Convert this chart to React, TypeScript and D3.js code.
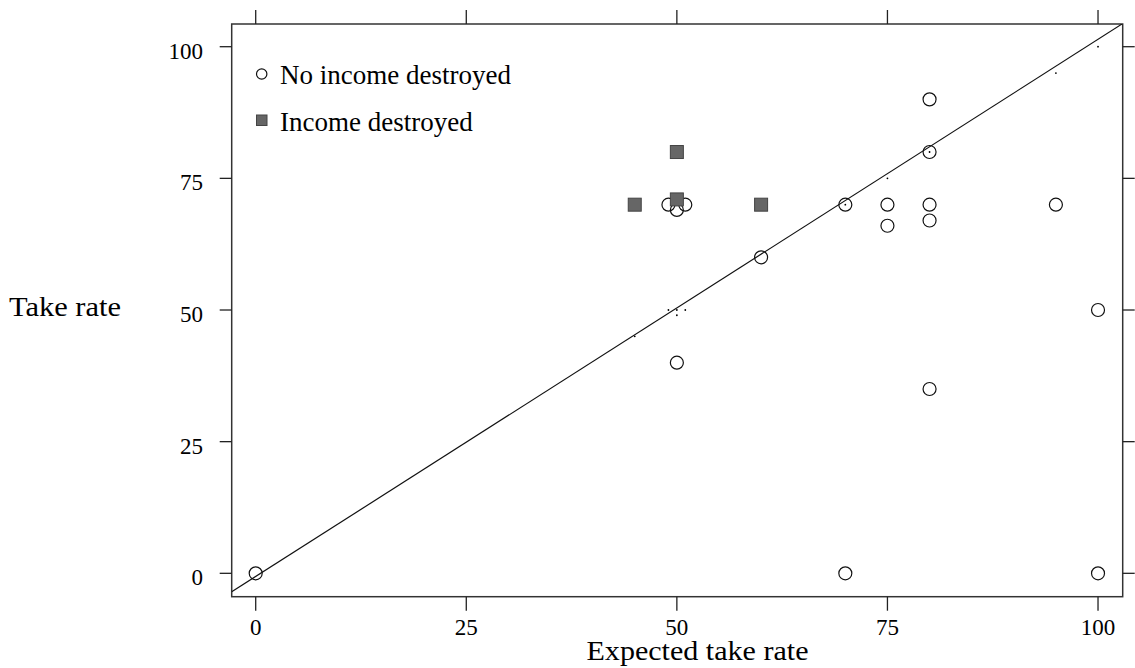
import React from 'react';
import * as d3 from 'd3';

// expected take rate / actual take rate
const noIncomeX = [0, 70, 100, 100, 80, 50, 60, 70, 75, 75, 80, 80, 80, 80, 95, 49, 51, 50];
const noIncomeY = [0, 0, 0, 50, 35, 40, 60, 70, 70, 66, 70, 67, 80, 90, 70, 70, 70, 69];
const destroyedX = [45, 50, 50, 60];
const destroyedY = [70, 80, 71, 70];
// tiny dots sitting on the diagonal
const dotX = [45, 49, 50, 51, 50, 70, 75, 80, 95, 100];
const dotY = [45, 50, 50, 50, 49, 70, 75, 80, 95, 100];
const ticks = [0, 25, 50, 75, 100];
const fitIntercept = -0.6;
const fitSlope = 1.02;
const legendLabels = ['No income destroyed', 'Income destroyed'];

const W = 1135;
const H = 668;
const FONT = '"Liberation Serif", "Times New Roman", serif';

export default function App() {
  const x = d3.scaleLinear().domain([-2.85, 102.93]).range([231.7, 1122.7]);
  const y = d3.scaleLinear().domain([-4.44, 104.31]).range([596.7, 24]);
  const [x0, x1] = x.range();
  const [y0, y1] = y.range();

  const line = d3.line<number>()
    .x(d => x(d))
    .y(d => y(fitIntercept + fitSlope * d));
  const xd = x.domain();

  return (
    <svg width={W} height={H} style={{ position: 'absolute', left: 0, top: 0, background: '#fff' }}>
      <defs>
        <clipPath id="plot">
          <rect x={x0} y={y1} width={x1 - x0} height={y0 - y1} />
        </clipPath>
      </defs>

      {/* frame */}
      <rect x={x0} y={y1} width={x1 - x0} height={y0 - y1} fill="none" stroke="#333" strokeWidth={1.5} />

      {/* ticks on all four sides */}
      {ticks.map(t => (
        <g key={'t' + t} stroke="#222" strokeWidth={1.3}>
          <line x1={x(t)} x2={x(t)} y1={y0} y2={y0 + 14} />
          <line x1={x(t)} x2={x(t)} y1={y1} y2={y1 - 14} />
          <line x1={x0} x2={x0 - 12} y1={y(t)} y2={y(t)} />
          <line x1={x1} x2={x1 + 12} y1={y(t)} y2={y(t)} />
        </g>
      ))}
      {ticks.map(t => (
        <text key={'xl' + t} x={x(t)} y={635} textAnchor="middle" fontFamily={FONT} fontSize={23} fill="#000">{t}</text>
      ))}
      {ticks.map(t => (
        <text key={'yl' + t} x={203} y={y(t) + 12} textAnchor="end" fontFamily={FONT} fontSize={23} fill="#000">{t}</text>
      ))}

      <text x={697.5} y={660} textAnchor="middle" fontFamily={FONT} fontSize={28} textLength={222} lengthAdjust="spacingAndGlyphs">Expected take rate</text>
      <text x={9} y={316} fontFamily={FONT} fontSize={28} textLength={112} lengthAdjust="spacingAndGlyphs">Take rate</text>

      <g clipPath="url(#plot)">
        <path d={line([xd[0], xd[1]]) || ''} fill="none" stroke="#111" strokeWidth={1.2} />
        {dotX.map((d, i) => (
          <circle key={'d' + i} cx={x(d)} cy={y(dotY[i])} r={0.9} fill="#000" />
        ))}
        {noIncomeX.map((d, i) => (
          <circle key={'c' + i} cx={x(d)} cy={y(noIncomeY[i])} r={6.5} fill="none" stroke="#111" strokeWidth={1.2} />
        ))}
        {destroyedX.map((d, i) => (
          <rect key={'s' + i} x={x(d) - 6.5} y={y(destroyedY[i]) - 6.5} width={13} height={13} fill="#666" stroke="#444" strokeWidth={1} />
        ))}
      </g>

      {/* legend */}
      <circle cx={261.7} cy={74} r={5.2} fill="none" stroke="#111" strokeWidth={1.2} />
      <text x={280} y={84} fontFamily={FONT} fontSize={27}>{legendLabels[0]}</text>
      <rect x={256.5} y={115} width={10.5} height={10.5} fill="#666" stroke="#444" strokeWidth={1} />
      <text x={280} y={131} fontFamily={FONT} fontSize={27}>{legendLabels[1]}</text>
    </svg>
  );
}
